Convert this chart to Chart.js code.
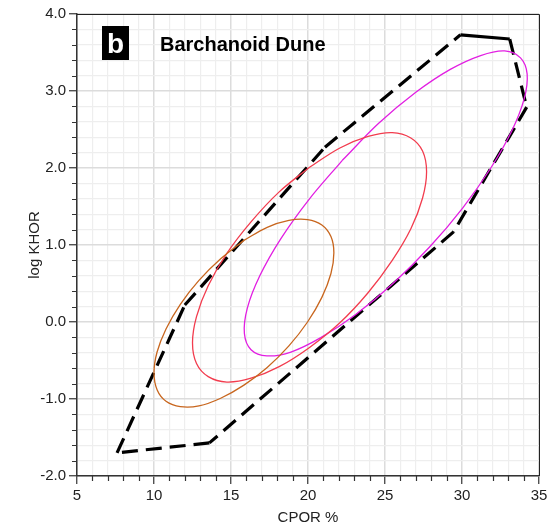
<!DOCTYPE html>
<html>
<head>
<meta charset="utf-8">
<script src="https://cdn.jsdelivr.net/npm/chart.js@4.4.1/dist/chart.umd.min.js"></script>
<style>
  html, body { margin: 0; padding: 0; background: #fff; }
  #wrap { width: 554px; height: 530px; }
</style>
</head>
<body>
<div id="wrap"><canvas id="chart" width="554" height="530"></canvas></div>
<script>
// Axis ranges / ticks
const xRange = [5, 35];
const yRange = [-2, 4];
const xMajorStep = 5;
const yMajorStep = 1;

// Dashed outline polygon (CPOR %, log KHOR)
const outlineVertices = [
    [29.9, 3.73], [33.1, 3.675], [34.2, 2.79], [29.45, 1.17],
    [13.6, -1.57], [7.6, -1.7], [12.0, 0.22], [21.1, 2.27], [29.9, 3.73]
];
const solidEdges = [0];

// Ellipse outlines (points going round each curve)
const orangeEllipse = [
    [15.84, 1.06], [17.35, 1.23], [18.76, 1.32], [19.97, 1.33], [20.90, 1.26],
    [21.49, 1.11], [21.68, 0.90], [21.49, 0.63], [20.90, 0.32], [19.97, 0.00],
    [18.76, -0.31], [17.35, -0.59], [15.84, -0.82], [14.33, -0.99], [12.92, -1.09],
    [11.71, -1.10], [10.78, -1.03], [10.20, -0.88], [10.00, -0.66], [10.20, -0.39],
    [10.78, -0.09], [11.71, 0.23], [12.92, 0.54], [14.33, 0.82], [15.84, 1.06]
];
const redEllipse = [
    [20.10, 2.01], [22.07, 2.26], [23.90, 2.41], [25.47, 2.46], [26.68, 2.39],
    [27.44, 2.22], [27.70, 1.95], [27.44, 1.61], [26.68, 1.21], [25.47, 0.80],
    [23.90, 0.38], [22.07, -0.01], [20.10, -0.33], [18.13, -0.58], [16.30, -0.73],
    [14.73, -0.78], [13.52, -0.71], [12.76, -0.54], [12.50, -0.27], [12.76, 0.07],
    [13.52, 0.47], [14.73, 0.89], [16.30, 1.30], [18.13, 1.69], [20.10, 2.01]
];
const magentaEllipse = [
    [22.23, 2.10], [20.06, 1.59], [18.23, 1.08], [16.87, 0.60], [16.06, 0.18],
    [15.87, -0.15], [16.30, -0.36], [17.33, -0.44], [18.89, -0.39], [20.86, -0.20],
    [23.12, 0.10], [25.52, 0.50], [27.88, 0.97], [30.04, 1.48], [31.87, 2.00],
    [33.23, 2.48], [34.04, 2.90], [34.23, 3.22], [33.80, 3.43], [32.77, 3.52],
    [31.21, 3.46], [29.24, 3.28], [26.98, 2.98], [24.59, 2.58], [22.23, 2.10]
];

const panelLetter = 'b';
const panelTitle = 'Barchanoid Dune';
const xTitle = 'CPOR %';
const yTitle = 'log KHOR';

const toPoints = arr => arr.map(([x, y]) => ({ x, y }));
const isMajor = (v, step) => Math.abs(v / step - Math.round(v / step)) < 1e-6;

function ellipseDataset(points, color) {
    return {
        data: toPoints(points),
        showLine: true,
        borderColor: color,
        borderWidth: 1.3,
        pointRadius: 0,
        tension: 0.34,
        fill: false
    };
}

// one dataset per polygon edge so every dash starts at a vertex
const outlineDatasets = [];
for (let i = 0; i < outlineVertices.length - 1; i++) {
    outlineDatasets.push({
        data: toPoints([outlineVertices[i], outlineVertices[i + 1]]),
        showLine: true,
        borderColor: '#000',
        borderWidth: 3.2,
        borderDash: solidEdges.includes(i) ? [] : [16, 8],
        borderCapStyle: 'butt',
        pointRadius: 0,
        tension: 0
    });
}

const frameAndLabels = {
    id: 'frameAndLabels',
    afterDraw(chart) {
        const { ctx, chartArea: a, scales } = chart;
        ctx.save();
        // top and right frame
        ctx.strokeStyle = '#222';
        ctx.lineWidth = 1;
        ctx.beginPath();
        ctx.moveTo(a.left, a.top + 0.5);
        ctx.lineTo(a.right + 0.5, a.top + 0.5);
        ctx.lineTo(a.right + 0.5, a.bottom);
        ctx.stroke();
        // minor tick marks
        ctx.strokeStyle = '#333';
        ctx.lineWidth = 1.2;
        ctx.beginPath();
        scales.x.ticks.forEach(t => {
            if (isMajor(t.value, xMajorStep)) return;
            const px = Math.round(scales.x.getPixelForValue(t.value)) + 0.5;
            ctx.moveTo(px, a.bottom);
            ctx.lineTo(px, a.bottom + 5);
        });
        scales.y.ticks.forEach(t => {
            if (isMajor(t.value, yMajorStep)) return;
            const py = Math.round(scales.y.getPixelForValue(t.value)) + 0.5;
            ctx.moveTo(a.left, py);
            ctx.lineTo(a.left - 5, py);
        });
        ctx.stroke();
        // panel label
        ctx.fillStyle = '#000';
        ctx.fillRect(102, 26, 27, 34);
        ctx.fillStyle = '#fff';
        ctx.font = 'bold 28px "Liberation Sans", Arial, sans-serif';
        ctx.textAlign = 'center';
        ctx.textBaseline = 'alphabetic';
        ctx.fillText(panelLetter, 115.5, 53);
        ctx.fillStyle = '#000';
        ctx.font = 'bold 20px "Liberation Sans", Arial, sans-serif';
        ctx.textAlign = 'left';
        ctx.fillText(panelTitle, 160, 51);
        ctx.restore();
    }
};

const tickFont = { family: '"Liberation Sans", Arial, sans-serif', size: 15 };

new Chart(document.getElementById('chart'), {
    type: 'scatter',
    data: {
        datasets: [
            ellipseDataset(orangeEllipse, '#c8661e'),
            ellipseDataset(redEllipse, '#f23c4e'),
            ellipseDataset(magentaEllipse, '#e21ee2'),
            ...outlineDatasets
        ]
    },
    options: {
        responsive: false,
        animation: false,
        layout: { padding: { top: 14, right: 15, left: 0, bottom: 0 } },
        plugins: { legend: { display: false }, tooltip: { enabled: false } },
        scales: {
            x: {
                type: 'linear',
                min: xRange[0],
                max: xRange[1],
                afterFit: s => { s.height = 54; },
                ticks: {
                    stepSize: 1,
                    autoSkip: false,
                    maxRotation: 0,
                    padding: 3,
                    color: '#222',
                    font: tickFont,
                    callback: v => isMajor(v, xMajorStep) ? String(Math.round(v)) : ''
                },
                grid: {
                    color: c => isMajor(c.tick.value, xMajorStep) ? '#dcdcdc' : '#eeeeee',
                    lineWidth: c => isMajor(c.tick.value, xMajorStep) ? 1.5 : 1.2,
                    tickColor: c => isMajor(c.tick.value, xMajorStep) ? '#333' : 'rgba(0,0,0,0)',
                    tickLength: 8,
                    tickWidth: 1.2
                },
                border: { color: '#333', width: 1.5 },
                title: {
                    display: true,
                    text: xTitle,
                    color: '#222',
                    font: tickFont,
                    padding: { top: 0, bottom: 3 }
                }
            },
            y: {
                type: 'linear',
                min: yRange[0],
                max: yRange[1],
                afterFit: s => { s.width = 77; },
                ticks: {
                    stepSize: 0.2,
                    autoSkip: false,
                    padding: 3,
                    color: '#222',
                    font: tickFont,
                    callback: v => isMajor(v, yMajorStep) ? Math.round(v).toFixed(1) : ''
                },
                grid: {
                    color: c => isMajor(c.tick.value, yMajorStep) ? '#dcdcdc' : '#eeeeee',
                    lineWidth: c => isMajor(c.tick.value, yMajorStep) ? 1.5 : 1.2,
                    tickColor: c => isMajor(c.tick.value, yMajorStep) ? '#333' : 'rgba(0,0,0,0)',
                    tickLength: 8,
                    tickWidth: 1.2
                },
                border: { color: '#333', width: 1.5 },
                title: {
                    display: true,
                    text: yTitle,
                    color: '#222',
                    font: tickFont,
                    padding: { top: 26, bottom: 0 }
                }
            }
        }
    },
    plugins: [frameAndLabels]
});
</script>
</body>
</html>
